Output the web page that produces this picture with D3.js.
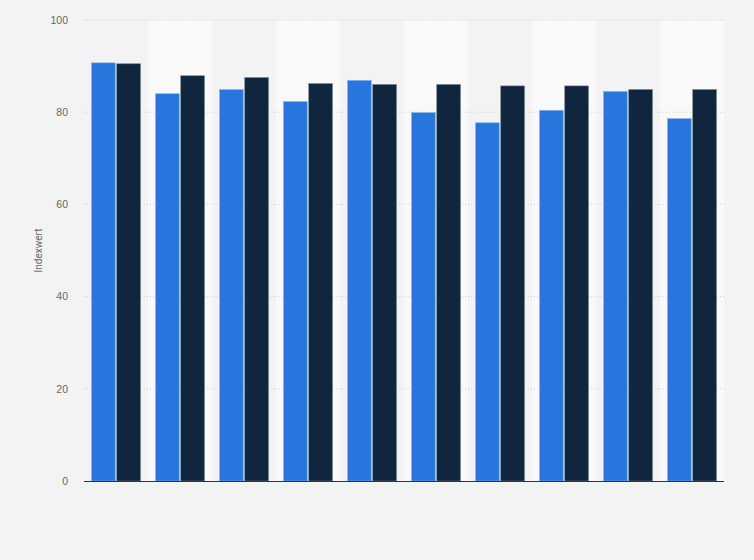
<!DOCTYPE html>
<html>
<head>
<meta charset="utf-8">
<script src="https://cdn.jsdelivr.net/npm/d3@7"></script>
<style>
	body { margin: 0; background: #f3f3f3; }
	svg { display: block; font-family: Roboto, Arial, sans-serif; }
</style>
</head>
<body>
<svg id="chart"></svg>
<script>
const width = 754, height = 560;
const margin = { top: 20, right: 30, bottom: 79, left: 84 };

// one entry per group, no visible category labels in the original
const categories = ['1', '2', '3', '4', '5', '6', '7', '8', '9', '10'];
const seriesA = [90.7, 84.0, 84.9, 82.3, 86.9, 79.9, 77.7, 80.4, 84.5, 78.6];
const seriesB = [90.5, 87.9, 87.5, 86.2, 86.0, 86.0, 85.7, 85.7, 84.9, 84.9];
const yTicks = [0, 20, 40, 60, 80, 100];
const yLabel = 'Indexwert';

const svg = d3.select('#chart')
	.attr('width', width)
	.attr('height', height);

svg.append('rect')
	.attr('width', width)
	.attr('height', height)
	.attr('fill', '#f3f3f3');

const xScale = d3.scaleBand()
	.domain(categories)
	.range([margin.left, width - margin.right]);

const xInner = d3.scaleBand()
	.domain(['a', 'b'])
	.range([0, xScale.bandwidth()])
	.paddingInner(0.06)
	.paddingOuter(0.3);

const yScale = d3.scaleLinear()
	.domain([0, 100])
	.range([height - margin.bottom, margin.top]);

// alternating column stripes
svg.append('g')
	.selectAll('rect')
	.data(categories)
	.enter()
	.append('rect')
	.attr('x', d => xScale(d))
	.attr('y', margin.top)
	.attr('width', xScale.bandwidth())
	.attr('height', yScale(0) - margin.top)
	.attr('fill', (d, i) => i % 2 ? '#f9f9f9' : '#f3f3f3');

// gridlines
svg.append('g')
	.selectAll('line')
	.data(yTicks.filter(t => t > 0))
	.enter()
	.append('line')
	.attr('x1', margin.left)
	.attr('x2', width - margin.right)
	.attr('y1', d => yScale(d))
	.attr('y2', d => yScale(d))
	.attr('stroke', '#cfcfcf')
	.attr('stroke-width', 1)
	.attr('stroke-dasharray', '1,2');

const yAxis = svg.append('g')
	.attr('class', 'y axis')
	.attr('transform', `translate(${margin.left - 16}, 0)`)
	.call(d3.axisLeft(yScale).tickValues(yTicks).tickSize(0).tickPadding(0));
yAxis.select('.domain').remove();
yAxis.selectAll('text')
	.attr('fill', '#666')
	.style('font-size', '10.5px');

svg.append('text')
	.attr('transform', `translate(42, ${(margin.top + yScale(0)) / 2}) rotate(-90)`)
	.attr('text-anchor', 'middle')
	.attr('fill', '#666')
	.style('font-size', '10px')
	.text(yLabel);

const groups = svg.append('g')
	.selectAll('g')
	.data(categories)
	.enter()
	.append('g')
	.attr('transform', d => `translate(${xScale(d)}, 0)`);

groups.append('rect')
	.attr('x', xInner('a'))
	.attr('y', (d, i) => yScale(seriesA[i]))
	.attr('width', xInner.bandwidth())
	.attr('height', (d, i) => yScale(0) - yScale(seriesA[i]))
	.attr('fill', '#2876dd')
	.attr('stroke', '#7fb0ee')
	.attr('stroke-width', 0.6);

groups.append('rect')
	.attr('x', xInner('b'))
	.attr('y', (d, i) => yScale(seriesB[i]))
	.attr('width', xInner.bandwidth())
	.attr('height', (d, i) => yScale(0) - yScale(seriesB[i]))
	.attr('fill', '#10263e')
	.attr('stroke', '#6c7b8c')
	.attr('stroke-width', 0.6);

// baseline
svg.append('line')
	.attr('x1', margin.left)
	.attr('x2', width - margin.right)
	.attr('y1', yScale(0) + 0.5)
	.attr('y2', yScale(0) + 0.5)
	.attr('stroke', '#333')
	.attr('stroke-width', 1.2);
</script>
</body>
</html>
